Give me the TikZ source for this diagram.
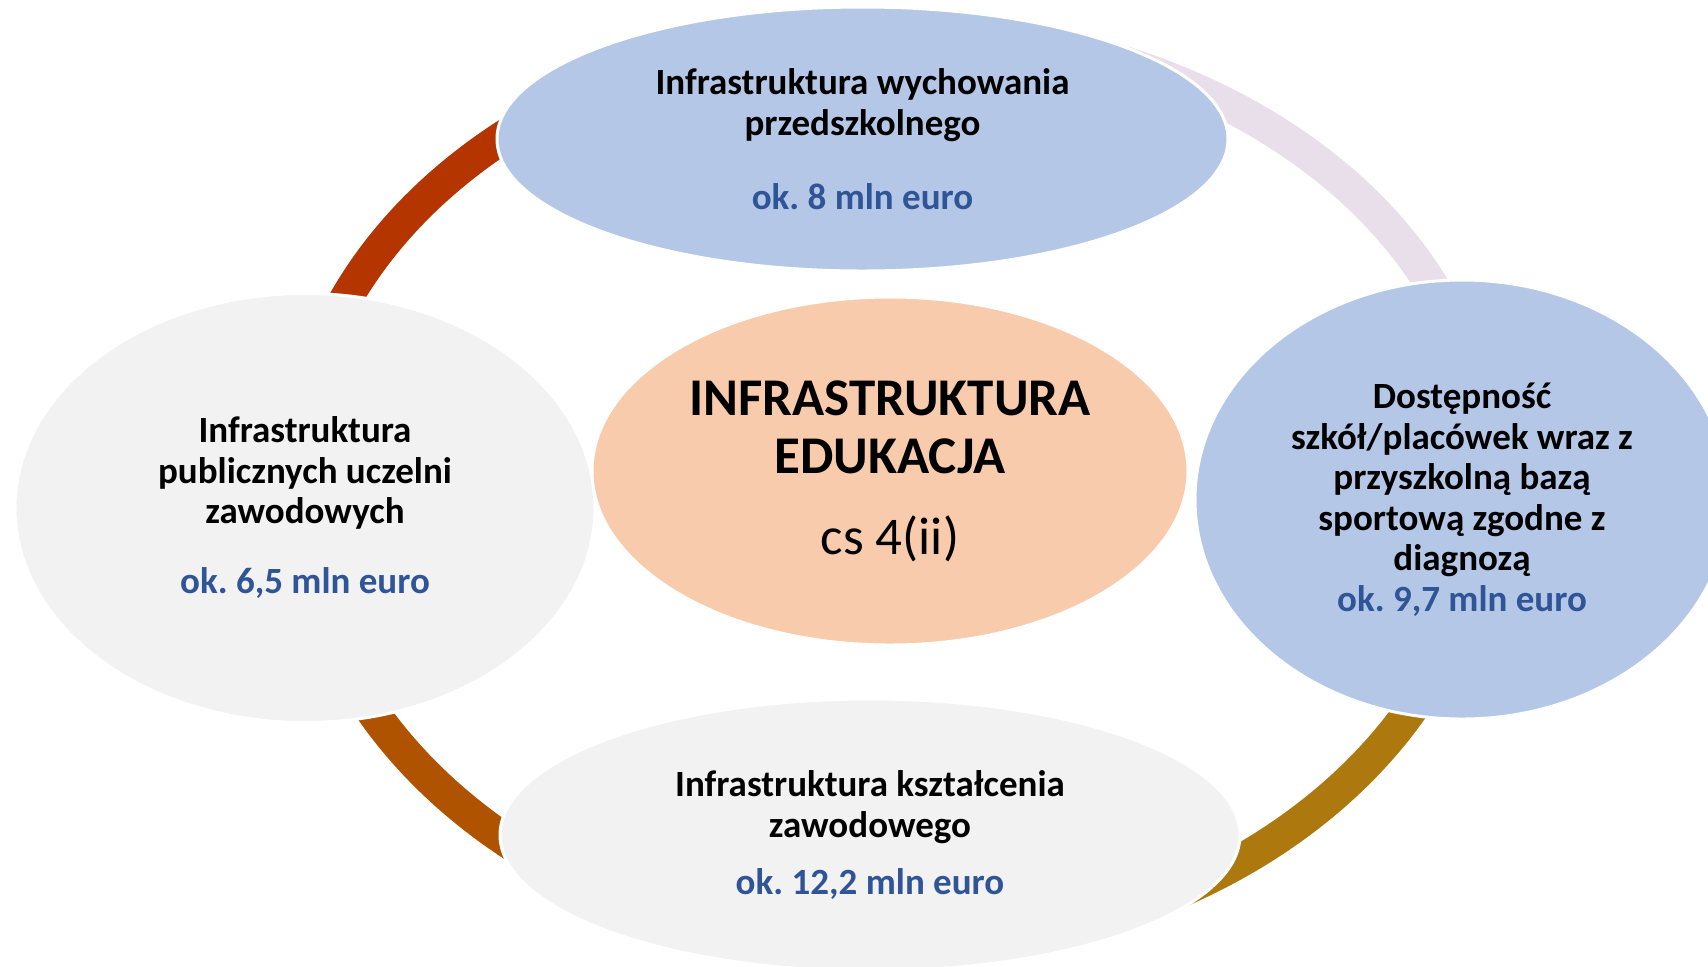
\documentclass[tikz,border=0pt]{standalone}
\usepackage{fontspec}
\setmainfont{Carlito}
\usetikzlibrary{shapes.geometric}
\definecolor{arcred}{HTML}{B53500}
\definecolor{arclav}{HTML}{E8DFEA}
\definecolor{arcgold}{HTML}{AD780E}
\definecolor{arcbrown}{HTML}{AF5300}
\definecolor{bluefill}{HTML}{B4C7E7}
\definecolor{greyfill}{HTML}{F2F2F2}
\definecolor{peachfill}{HTML}{F8CBAD}
\definecolor{amount}{HTML}{2F5597}
\frenchspacing
\begin{document}
\begin{tikzpicture}[x=0.5pt,y=-0.5pt,
  ringarc/.style={line width=16.5pt},
  bubble/.style={ellipse, draw=white, line width=1.5pt, inner sep=0pt, align=center,
    font=\bfseries\fontsize{18.5}{20.25}\selectfont},
  hub/.style={bubble, font=\bfseries\fontsize{26.5}{29}\selectfont}]
\fill[white] (0,0) rectangle (1708,966);
\useasboundingbox (0,0) rectangle (1708,966);
% ring segments
\draw[ringarc, arcred]   plot[domain=178:272, samples=90] ({889+594*cos(\x)},{483+455*sin(\x)});
\draw[ringarc, arclav]   plot[domain=268:362, samples=90] ({889+597.2*cos(\x)},{470+443.3*sin(\x)});
\draw[ringarc, arcgold]  plot[domain=-2:92, samples=90] ({889+597*cos(\x)},{483+467.5*sin(\x)});
\draw[ringarc, arcbrown] plot[domain=88:182, samples=90] ({889+591.4*cos(\x)},{483+469*sin(\x)});
% bubbles
\node[bubble, fill=bluefill, minimum width=365.5pt, minimum height=132pt] (top) at (862.5,139)
  {Infrastruktura wychowania\\przedszkolnego\\[16.75pt]\textcolor{amount}{ok. 8 mln euro}};
\node[bubble, fill=greyfill, minimum width=290pt, minimum height=214.5pt] (left) at (305,508)
  {Infrastruktura\\publicznych uczelni\\zawodowych\\[14.75pt]\textcolor{amount}{ok. 6,5 mln euro}};
\node[bubble, fill=bluefill, minimum width=267pt, minimum height=219.5pt] (right) at (1462,499.5)
  {Dostępność\\szkół/placówek wraz z\\przyszkolną bazą\\sportową zgodne z\\diagnozą\\\textcolor{amount}{ok. 9,7 mln euro}};
\node[bubble, fill=greyfill, minimum width=370pt, minimum height=136pt] (bottom) at (870,835)
  {Infrastruktura kształcenia\\zawodowego\\[8.25pt]\textcolor{amount}{ok. 12,2 mln euro}};
\node[hub, fill=peachfill, minimum width=298pt, minimum height=174pt] (hub) at (890,471)
  {INFRASTRUKTURA\\EDUKACJA\\[11.5pt]\mdseries cs 4(ii)};
\end{tikzpicture}
\end{document}
